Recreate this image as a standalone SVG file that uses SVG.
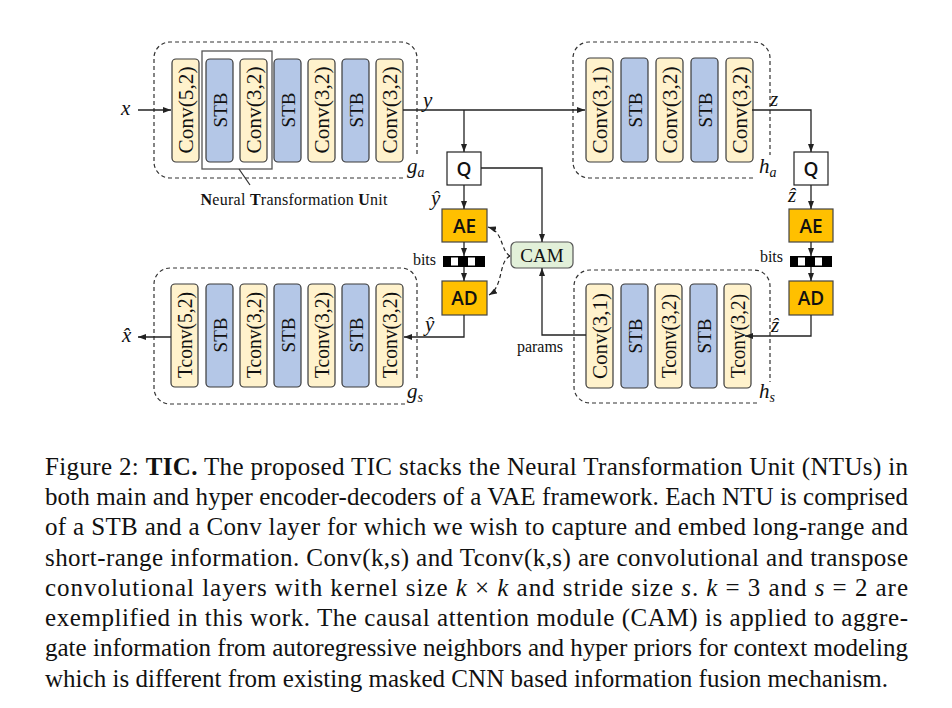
<svg xmlns="http://www.w3.org/2000/svg" width="952" height="708" viewBox="0 0 952 708">
<style>
.conv{fill:#fff2cc;stroke:#3a3a3a;stroke-width:1.2}
.stb{fill:#b4c7e7;stroke:#3a3a3a;stroke-width:1.2}
.blk{font-family:"Liberation Serif",serif;font-size:21px;fill:#111}
.s{font-size:19px}
.dash{fill:none;stroke:#333;stroke-width:1.2;stroke-dasharray:4 3}
.ln{fill:none;stroke:#222;stroke-width:1.3}
.dl{fill:none;stroke:#222;stroke-width:1.2;stroke-dasharray:4 3}
.q{fill:#fff;stroke:#222;stroke-width:1.2}
.ae{fill:#ffc000;stroke:#444;stroke-width:1.2}
.sans{font-family:"Open Sans","Liberation Sans",sans-serif;font-weight:600;font-size:19px;fill:#111}
.m{font-family:"Liberation Serif",serif;font-style:italic;font-size:21px;fill:#111}
.sub{font-size:14px}
.lbl{font-family:"Liberation Serif",serif;font-size:16px;fill:#111}
.cap{font-family:"Liberation Serif",serif;font-size:25px;fill:#111}
</style>
<defs>
<marker id="ah" viewBox="0 0 8 6" refX="8" refY="3" markerWidth="8" markerHeight="6" markerUnits="userSpaceOnUse" orient="auto">
<path d="M0,0 L8,3 L0,6 z" fill="#222"/>
</marker>
</defs>

<!-- g_a -->
<g id="ga">
<path class="dash" d="M403 178 H170 A16 16 0 0 1 154 162 V58 A16 16 0 0 1 170 42 H401 A16 16 0 0 1 417 58 V155"/>
<rect class="conv" x="172" y="59" width="27" height="103" rx="4"/>
<rect class="stb" x="206" y="59" width="27" height="103" rx="4"/>
<rect class="conv" x="240" y="59" width="27" height="103" rx="4"/>
<rect class="stb" x="274" y="59" width="27" height="103" rx="4"/>
<rect class="conv" x="308" y="59" width="27" height="103" rx="4"/>
<rect class="stb" x="342" y="59" width="27" height="103" rx="4"/>
<rect class="conv" x="376" y="59" width="27" height="103" rx="4"/>
<text class="blk" transform="translate(186,110) rotate(-90)" text-anchor="middle" dominant-baseline="central" textLength="87" lengthAdjust="spacingAndGlyphs">Conv(5,2)</text>
<text class="blk s" transform="translate(220,110) rotate(-90)" text-anchor="middle" dominant-baseline="central">STB</text>
<text class="blk" transform="translate(254,110) rotate(-90)" text-anchor="middle" dominant-baseline="central" textLength="87" lengthAdjust="spacingAndGlyphs">Conv(3,2)</text>
<text class="blk s" transform="translate(288,110) rotate(-90)" text-anchor="middle" dominant-baseline="central">STB</text>
<text class="blk" transform="translate(322,110) rotate(-90)" text-anchor="middle" dominant-baseline="central" textLength="87" lengthAdjust="spacingAndGlyphs">Conv(3,2)</text>
<text class="blk s" transform="translate(356,110) rotate(-90)" text-anchor="middle" dominant-baseline="central">STB</text>
<text class="blk" transform="translate(390,110) rotate(-90)" text-anchor="middle" dominant-baseline="central" textLength="87" lengthAdjust="spacingAndGlyphs">Conv(3,2)</text>
<text class="m" x="407" y="173">g<tspan class="sub" dy="4">a</tspan></text>
</g>

<g id="ntu">
<rect x="202" y="51" width="70" height="118" fill="none" stroke="#555" stroke-width="1.3"/>
<line x1="239" y1="169" x2="250" y2="185" stroke="#333" stroke-width="1.2"/>
<text x="294" y="205" text-anchor="middle" font-family="Liberation Serif, serif" font-size="16px" fill="#111" textLength="187"><tspan font-weight="bold">N</tspan>eural <tspan font-weight="bold">T</tspan>ransformation <tspan font-weight="bold">U</tspan>nit</text>
</g>

<!-- h_a -->
<g id="ha">
<path class="dash" d="M753 178 H589 A16 16 0 0 1 573 162 V58 A16 16 0 0 1 589 42 H754 A16 16 0 0 1 770 58 V155"/>
<rect class="conv" x="586" y="58" width="27" height="104" rx="4"/>
<rect class="stb" x="621" y="58" width="27" height="104" rx="4"/>
<rect class="conv" x="656" y="58" width="27" height="104" rx="4"/>
<rect class="stb" x="691" y="58" width="27" height="104" rx="4"/>
<rect class="conv" x="726" y="58" width="27" height="104" rx="4"/>
<text class="blk" transform="translate(600,110) rotate(-90)" text-anchor="middle" dominant-baseline="central" textLength="87" lengthAdjust="spacingAndGlyphs">Conv(3,1)</text>
<text class="blk s" transform="translate(635,110) rotate(-90)" text-anchor="middle" dominant-baseline="central">STB</text>
<text class="blk" transform="translate(670,110) rotate(-90)" text-anchor="middle" dominant-baseline="central" textLength="87" lengthAdjust="spacingAndGlyphs">Conv(3,2)</text>
<text class="blk s" transform="translate(705,110) rotate(-90)" text-anchor="middle" dominant-baseline="central">STB</text>
<text class="blk" transform="translate(740,110) rotate(-90)" text-anchor="middle" dominant-baseline="central" textLength="87" lengthAdjust="spacingAndGlyphs">Conv(3,2)</text>
<text class="m" x="759" y="173">h<tspan class="sub" dy="4">a</tspan></text>
</g>

<!-- g_s -->
<g id="gs">
<path class="dash" d="M405 404 H170 A16 16 0 0 1 154 388 V284 A16 16 0 0 1 170 268 H401 A16 16 0 0 1 417 284 V380"/>
<rect class="conv" x="171" y="284" width="27" height="103" rx="4"/>
<rect class="stb" x="206" y="284" width="27" height="103" rx="4"/>
<rect class="conv" x="240" y="284" width="27" height="103" rx="4"/>
<rect class="stb" x="274" y="284" width="27" height="103" rx="4"/>
<rect class="conv" x="308" y="284" width="27" height="103" rx="4"/>
<rect class="stb" x="342" y="284" width="27" height="103" rx="4"/>
<rect class="conv" x="376" y="284" width="27" height="103" rx="4"/>
<text class="blk" transform="translate(185,335) rotate(-90)" text-anchor="middle" dominant-baseline="central" textLength="86" lengthAdjust="spacingAndGlyphs">Tconv(5,2)</text>
<text class="blk s" transform="translate(220,335) rotate(-90)" text-anchor="middle" dominant-baseline="central">STB</text>
<text class="blk" transform="translate(254,335) rotate(-90)" text-anchor="middle" dominant-baseline="central" textLength="86" lengthAdjust="spacingAndGlyphs">Tconv(3,2)</text>
<text class="blk s" transform="translate(288,335) rotate(-90)" text-anchor="middle" dominant-baseline="central">STB</text>
<text class="blk" transform="translate(322,335) rotate(-90)" text-anchor="middle" dominant-baseline="central" textLength="86" lengthAdjust="spacingAndGlyphs">Tconv(3,2)</text>
<text class="blk s" transform="translate(356,335) rotate(-90)" text-anchor="middle" dominant-baseline="central">STB</text>
<text class="blk" transform="translate(390,335) rotate(-90)" text-anchor="middle" dominant-baseline="central" textLength="86" lengthAdjust="spacingAndGlyphs">Tconv(3,2)</text>
<text class="m" x="407" y="398">g<tspan class="sub" dy="4">s</tspan></text>
</g>

<!-- h_s -->
<g id="hs">
<path class="dash" d="M757 403 H590 A16 16 0 0 1 574 387 V286 A16 16 0 0 1 590 270 H754 A16 16 0 0 1 770 286 V382"/>
<rect class="conv" x="586" y="284" width="27" height="104" rx="4"/>
<rect class="stb" x="621" y="284" width="27" height="104" rx="4"/>
<rect class="conv" x="655" y="284" width="27" height="104" rx="4"/>
<rect class="stb" x="690" y="284" width="27" height="104" rx="4"/>
<rect class="conv" x="724" y="284" width="27" height="104" rx="4"/>
<text class="blk" transform="translate(600,336) rotate(-90)" text-anchor="middle" dominant-baseline="central" textLength="86" lengthAdjust="spacingAndGlyphs">Conv(3,1)</text>
<text class="blk s" transform="translate(635,336) rotate(-90)" text-anchor="middle" dominant-baseline="central">STB</text>
<text class="blk" transform="translate(669,336) rotate(-90)" text-anchor="middle" dominant-baseline="central" textLength="84" lengthAdjust="spacingAndGlyphs">Tconv(3,2)</text>
<text class="blk s" transform="translate(704,336) rotate(-90)" text-anchor="middle" dominant-baseline="central">STB</text>
<text class="blk" transform="translate(738,336) rotate(-90)" text-anchor="middle" dominant-baseline="central" textLength="84" lengthAdjust="spacingAndGlyphs">Tconv(3,2)</text>
<text class="m" x="759" y="398">h<tspan class="sub" dy="4">s</tspan></text>
</g>

<!-- coding column (main) -->
<g id="q1"><rect class="q" x="447" y="152" width="34" height="33"/><text class="sans" x="464" y="169" text-anchor="middle" dominant-baseline="central">Q</text></g>
<g id="ae1"><rect class="ae" x="442" y="209" width="45" height="33"/><text class="sans" x="464.5" y="226" text-anchor="middle" dominant-baseline="central">AE</text></g>
<g id="bits1">
<rect x="443" y="256" width="42" height="11" fill="#000"/>
<rect x="451" y="257.5" width="7" height="8" fill="#fff"/>
<rect x="468" y="257.5" width="7" height="8" fill="#fff"/>
<text class="lbl" x="436" y="265" text-anchor="end">bits</text>
</g>
<g id="ad1"><rect class="ae" x="442" y="281" width="45" height="34"/><text class="sans" x="464.5" y="298" text-anchor="middle" dominant-baseline="central">AD</text></g>
<g id="cam"><rect x="511" y="242" width="62" height="26" rx="5" fill="#e2f0d9" stroke="#555" stroke-width="1.2"/><text x="542" y="262" text-anchor="middle" font-family="Liberation Serif, serif" font-size="19px" fill="#111">CAM</text></g>

<!-- coding column (hyper) -->
<g id="q2"><rect class="q" x="794" y="152" width="34" height="33"/><text class="sans" x="811" y="169" text-anchor="middle" dominant-baseline="central">Q</text></g>
<g id="ae2"><rect class="ae" x="789" y="209" width="44" height="33"/><text class="sans" x="811" y="226" text-anchor="middle" dominant-baseline="central">AE</text></g>
<g id="bits2">
<rect x="790" y="256" width="42" height="11" fill="#000"/>
<rect x="798" y="257.5" width="7" height="8" fill="#fff"/>
<rect x="815" y="257.5" width="7" height="8" fill="#fff"/>
<text class="lbl" x="783" y="262" text-anchor="end">bits</text>
</g>
<g id="ad2"><rect class="ae" x="789" y="281" width="44" height="34"/><text class="sans" x="811" y="298" text-anchor="middle" dominant-baseline="central">AD</text></g>

<!-- connectors -->
<g id="connectors">
<path class="ln" d="M138 110 H171" marker-end="url(#ah)"/>
<path class="ln" d="M403 110 H585" marker-end="url(#ah)"/>
<path class="ln" d="M464 110 V152" marker-end="url(#ah)"/>
<path class="ln" d="M481 168 H542 V242" marker-end="url(#ah)"/>
<path class="ln" d="M464 185 V209" marker-end="url(#ah)"/>
<path class="ln" d="M464 242 V256" marker-end="url(#ah)"/>
<path class="ln" d="M464 267 V281" marker-end="url(#ah)"/>
<path class="ln" d="M464 315 V337 H404" marker-end="url(#ah)"/>
<path class="ln" d="M171 337 H138" marker-end="url(#ah)"/>
<path class="dl" d="M510 256 C500 250 504 232 488 227" marker-end="url(#ah)"/>
<path class="dl" d="M510 256 C498 262 504 286 489 295" marker-end="url(#ah)"/>
<path class="ln" d="M586 335 H542 V268" marker-end="url(#ah)"/>
<path class="ln" d="M752 110 H811 V152" marker-end="url(#ah)"/>
<path class="ln" d="M811 185 V209" marker-end="url(#ah)"/>
<path class="ln" d="M811 242 V256" marker-end="url(#ah)"/>
<path class="ln" d="M811 267 V281" marker-end="url(#ah)"/>
<path class="ln" d="M811 315 V336 H745" marker-end="url(#ah)"/>
</g>

<!-- math labels -->
<text class="m" x="121" y="115">x</text>
<text class="m" x="423" y="107">y</text>
<text class="m" x="431" y="205">ŷ</text>
<text class="m" x="425" y="331">ŷ</text>
<text class="m" x="770" y="106">z</text>
<text class="m" x="788" y="202">ẑ</text>
<text class="m" x="771" y="332">ẑ</text>
<text class="m" x="122" y="342">x̂</text>
<text class="lbl" x="540" y="352" text-anchor="middle" font-size="17px">params</text>

<!-- caption -->
<g id="caption" class="cap">
<text x="45" y="475" textLength="863" lengthAdjust="spacing">Figure 2: <tspan font-weight="bold">TIC.</tspan> The proposed TIC stacks the Neural Transformation Unit (NTUs) in</text>
<text x="45" y="505" textLength="863" lengthAdjust="spacing">both main and hyper encoder-decoders of a VAE framework. Each NTU is comprised</text>
<text x="45" y="535" textLength="863" lengthAdjust="spacing">of a STB and a Conv layer for which we wish to capture and embed long-range and</text>
<text x="45" y="566" textLength="863" lengthAdjust="spacing">short-range information. Conv(k,s) and Tconv(k,s) are convolutional and transpose</text>
<text x="45" y="596" textLength="863" lengthAdjust="spacing">convolutional layers with kernel size <tspan font-style="italic">k</tspan> × <tspan font-style="italic">k</tspan> and stride size <tspan font-style="italic">s</tspan>.  <tspan font-style="italic">k</tspan> = 3 and <tspan font-style="italic">s</tspan> = 2 are</text>
<text x="45" y="626" textLength="863" lengthAdjust="spacing">exemplified in this work. The causal attention module (CAM) is applied to aggre-</text>
<text x="45" y="656" textLength="863" lengthAdjust="spacing">gate information from autoregressive neighbors and hyper priors for context modeling</text>
<text x="45" y="687" textLength="843" lengthAdjust="spacing">which is different from existing masked CNN based information fusion mechanism.</text>
</g>
</svg>
